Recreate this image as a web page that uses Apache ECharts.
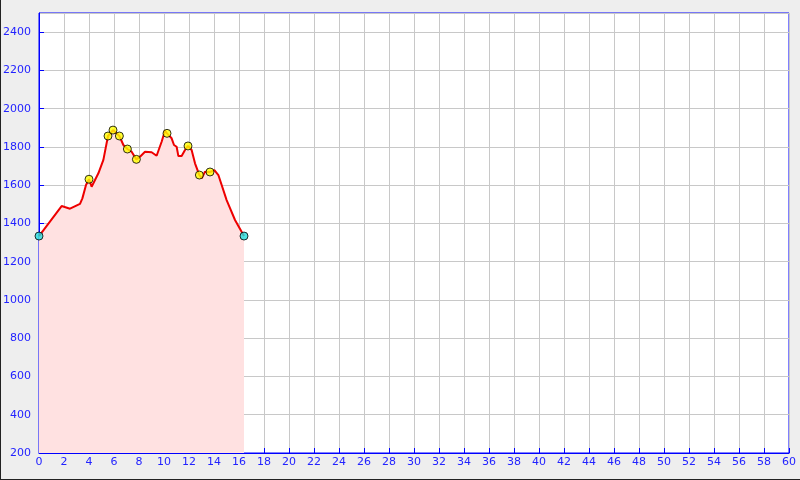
<!DOCTYPE html>
<html>
<head>
<meta charset="utf-8">
<script src="https://cdn.jsdelivr.net/npm/echarts@6/dist/echarts.min.js"></script>
<style>
html,body{margin:0;padding:0;background:#eeeeee;}
#wrap{position:relative;width:800px;height:480px;}
#main{width:800px;height:480px;}
#frame{position:absolute;left:0;top:0;width:800px;height:480px;box-sizing:border-box;border-left:1px solid #222;border-bottom:1px solid #222;pointer-events:none;}
</style>
</head>
<body>
<div id="wrap"><div id="main"></div><div id="frame"></div></div>
<script>
// Elevation profile (distance km, elevation m)
const distances = [0, 1.81, 2.48, 3.28, 3.47, 3.76, 4.0, 4.21, 4.75, 5.15, 5.52, 5.92, 6.43, 6.75, 7.07, 7.41, 7.79, 8.08, 8.48, 9.01, 9.41, 9.81, 10.08, 10.24, 10.61, 10.8, 11.01, 11.15, 11.41, 11.68, 11.92, 12.21, 12.48, 12.83, 13.01, 13.28, 13.68, 14.03, 14.35, 15.01, 15.68, 16.4];
const elevations = [1334, 1491, 1477, 1502, 1531, 1601, 1631, 1592, 1662, 1732, 1857, 1888, 1857, 1810, 1789, 1775, 1735, 1749, 1775, 1772, 1754, 1827, 1885, 1871, 1845, 1810, 1801, 1752, 1752, 1784, 1805, 1784, 1714, 1653, 1636, 1670, 1669, 1679, 1653, 1522, 1418, 1334];
// Waypoints
const waypointDist = [4.0, 5.52, 5.92, 6.43, 7.07, 7.79, 10.24, 11.92, 12.83, 13.68];
const waypointElev = [1631, 1857, 1888, 1857, 1789, 1735, 1871, 1805, 1653, 1669];
const endpointDist = [0, 16.4];
const endpointElev = [1334, 1334];

const xMin = 0, xMax = 60, xInterval = 2;
const yMin = 200, yMax = 2500, yInterval = 200;

const chart = echarts.init(document.getElementById('main'), null, {renderer: 'canvas'});
const blue = '#0000ff';
const labelStyle = {color: '#2222ff', fontFamily: 'DejaVu Sans', fontSize: 11, formatter: v => String(v)};
chart.setOption({
  animation: false,
  backgroundColor: 'transparent',
  grid: {left: 39, right: 11, top: 13, bottom: 27, outerBoundsMode: 'none', containLabel: false, show: true, backgroundColor: '#ffffff', borderColor: blue, borderWidth: 1},
  xAxis: {
    type: 'value', min: xMin, max: xMax, interval: xInterval,
    axisLine: {show: true, lineStyle: {color: blue, width: 1}},
    axisTick: {show: true, inside: true, length: 5, lineStyle: {color: blue}},
    axisLabel: Object.assign({margin: 4}, labelStyle),
    splitLine: {show: true, lineStyle: {color: '#c8c8c8', width: 1}}
  },
  yAxis: {
    type: 'value', min: yMin, max: yMax, interval: yInterval,
    axisLine: {show: true, lineStyle: {color: blue, width: 1}},
    axisTick: {show: true, inside: true, length: 5, lineStyle: {color: blue}},
    axisLabel: Object.assign({margin: 8, showMaxLabel: false}, labelStyle),
    splitLine: {show: true, lineStyle: {color: '#c8c8c8', width: 1}}
  },
  series: [
    {
      type: 'line',
      data: distances.map((d, i) => [d, elevations[i]]),
      showSymbol: false,
      lineStyle: {color: '#ee0000', width: 2},
      areaStyle: {color: '#ffe1e1', opacity: 1, origin: 'start'},
      z: 2
    },
    {
      type: 'scatter',
      data: waypointDist.map((d, i) => [d, waypointElev[i]]),
      symbol: 'circle', symbolSize: 8,
      itemStyle: {color: '#ffff00', borderColor: '#000000', borderWidth: 1},
      z: 3
    },
    {
      type: 'scatter',
      data: endpointDist.map((d, i) => [d, endpointElev[i]]),
      symbol: 'circle', symbolSize: 8,
      itemStyle: {color: '#22dddd', borderColor: '#000000', borderWidth: 1},
      z: 3
    }
  ]
});
</script>
</body>
</html>
